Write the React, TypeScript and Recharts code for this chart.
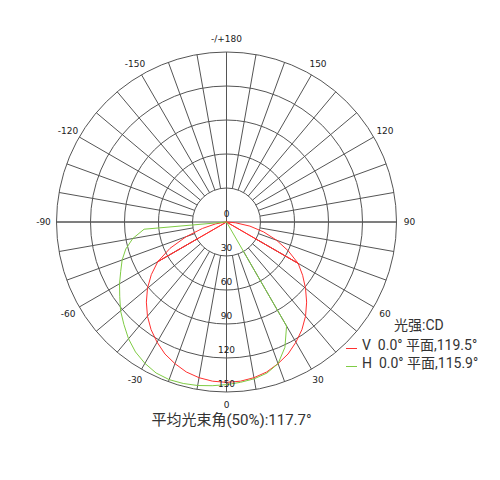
import { RadarChart, Radar, PolarGrid, PolarAngleAxis, PolarRadiusAxis, Legend } from "recharts";

// measured angles, 0 = straight down, positive to the right
const STEP_ANGLES = [
  -90, -85, -80, -75, -70, -65, -60, -55, -50, -45, -40, -35, -30, -25, -20, -15, -10, -5,
  0, 5, 10, 15, 20, 25, 30, 35, 40, 45, 50, 55, 60, 65, 70, 75, 80, 85, 90
];

// V 0.0° plane (cd)
const V_PLANE = [
  0, 2, 10, 22, 38, 55, 70, 81, 91, 100, 108.5, 116, 122.5, 128.5, 133, 137, 139.5, 141,
  141.5, 141, 139.5, 137, 133, 128.5, 122.5, 116, 108.5, 100, 91, 82, 73, 60, 47, 34, 21, 8, 0
];

// the two straight strokes back to the origin in the V plane
const V_PLANE_RETURN = [
  0, 0, 0, 0, 0, 0, 70, 0, 0, 0, 0, 0, 0, 0, 0, 0, 0, 0,
  0, 0, 0, 0, 0, 0, 0, 0, 0, 0, 0, 0, 73, 0, 0, 0, 0, 0, 0
];

// H 0.0° plane (cd)
const H_PLANE = [
  0, 73, 84, 92, 98, 103, 109, 115, 122, 128, 134.5, 140, 144, 147, 148, 147.5, 146.5, 145,
  143.5, 142, 140.5, 138, 133, 122, 106, 0, 0, 0, 0, 0, 0, 0, 0, 0, 0, 0, 0
];

const LABEL_ANGLES = [0, 30, 60, 90, 120, 150, 180, -150, -120, -90, -60, -30];
const ANGLE_LABELS = ["0", "30", "60", "90", "120", "150", "-/+180", "-150", "-120", "-90", "-60", "-30"];
const CROSS_ANGLES = [0, 90, 180, -90];

const SERIES_NAMES = ["V  0.0° 平面,119.5°", "H  0.0° 平面,115.9°"];
const UNIT_LABEL = "光强:CD";
const TITLE = "平均光束角(50%):117.7°";

const RED = "#ff3030";
const GREEN = "#7fcc45";
const SERIES_COLORS = [RED, GREEN];
const GRID = "#555";

const W = 484;
const H = 464;
const CX = 218.5;
const CY = 214;
const R = 170;
// the dial runs from 0 at the bottom; Recharts counts from 3 o'clock
const START = 270;

const LATIN_CJK = "Roboto, 'Noto Sans CJK SC', sans-serif";

// categories go clockwise from the bottom, so walk the dial backwards
const signedAngle = (deg: number) => {
  const s = ((deg % 360) + 360) % 360;
  return s > 180 ? s - 360 : s;
};

const gridData = Array.from({ length: 36 }, (_, i) => ({ angle: signedAngle(-10 * i), ring: 30 }));

const curveData = Array.from({ length: 72 }, (_, i) => {
  const a = signedAngle(-5 * i);
  const k = STEP_ANGLES.indexOf(a);
  return {
    angle: a,
    v: k >= 0 ? V_PLANE[k] : 0,
    vBack: k >= 0 ? V_PLANE_RETURN[k] : 0,
    h: k >= 0 ? H_PLANE[k] : 0
  };
});

function AngleTick(props: any) {
  const { x, y, payload } = props;
  const i = LABEL_ANGLES.indexOf(payload.value);
  if (i < 0) return <g />;
  return (
    <text x={x} y={y} textAnchor="middle" dominantBaseline="central" fontSize={9} fontFamily="'DejaVu Sans'" fill="#222">
      {ANGLE_LABELS[i]}
    </text>
  );
}

function RadiusTick(props: any) {
  const { x, y, payload } = props;
  return (
    <text x={x} y={y - 8} textAnchor="middle" dominantBaseline="central" fontSize={9} fontFamily="'DejaVu Sans'" fill="#222">
      {payload.value}
    </text>
  );
}

function LegendBox() {
  return (
    <div style={{ fontFamily: LATIN_CJK, fontSize: 14, lineHeight: "18px", color: "#333" }}>
      <div style={{ marginLeft: 48, marginBottom: 2 }}>{UNIT_LABEL}</div>
      {SERIES_NAMES.map((name, i) => (
        <div key={name} style={{ display: "flex", alignItems: "center", whiteSpace: "pre" }}>
          <span
            style={{
              display: "inline-block",
              width: 11,
              height: 1,
              background: SERIES_COLORS[i],
              marginRight: 5,
              position: "relative",
              top: 3
            }}
          />
          <span>{name}</span>
        </div>
      ))}
    </div>
  );
}

export default function App() {
  return (
    <div style={{ position: "relative", width: W, height: H }}>
      <div style={{ position: "absolute", left: 0, top: 0 }}>
        <RadarChart
          width={W}
          height={H}
          data={gridData}
          cx={CX}
          cy={CY}
          innerRadius={34}
          outerRadius={R}
          startAngle={START}
          endAngle={START - 360}
          margin={{ top: 0, right: 0, bottom: 0, left: 0 }}
        >
          <PolarGrid gridType="circle" stroke={GRID} strokeWidth={1} />
          <PolarAngleAxis dataKey="angle" axisLine={false} tickLine={false} tickSize={13} tick={AngleTick} />
          <PolarRadiusAxis domain={[30, 150]} tickCount={5} axisLine={false} tick={false} />
          <Radar dataKey="ring" stroke="none" fill="none" dot={false} legendType="none" isAnimationActive={false} />
        </RadarChart>
      </div>
      <div style={{ position: "absolute", left: 0, top: 0 }}>
        <RadarChart
          width={W}
          height={H}
          data={curveData}
          cx={CX}
          cy={CY}
          innerRadius={0}
          outerRadius={R}
          startAngle={START}
          endAngle={START - 360}
          margin={{ top: 0, right: 0, bottom: 0, left: 0 }}
        >
          <PolarGrid
            gridType="circle"
            polarRadius={[]}
            polarAngles={CROSS_ANGLES.map((a) => (START + a) % 360)}
            stroke={GRID}
            strokeWidth={1}
          />
          <PolarAngleAxis dataKey="angle" axisLine={false} tickLine={false} tick={false} />
          <PolarRadiusAxis angle={START} domain={[0, 150]} tickCount={6} axisLine={false} tickLine={false} tick={RadiusTick} />
          <Radar name={SERIES_NAMES[0]} dataKey="v" stroke={RED} strokeWidth={1} fill="none" dot={false} isAnimationActive={false} />
          <Radar dataKey="vBack" stroke={RED} strokeWidth={1} fill="none" dot={false} legendType="none" isAnimationActive={false} />
          <Radar name={SERIES_NAMES[1]} dataKey="h" stroke={GREEN} strokeWidth={1} fill="none" dot={false} isAnimationActive={false} />
          <Legend content={() => <LegendBox />} wrapperStyle={{ position: "absolute", left: 338, top: 308, width: 150 }} />
        </RadarChart>
      </div>
      <div
        style={{
          position: "absolute",
          left: 223.5,
          top: 400,
          transform: "translateX(-50%)",
          whiteSpace: "nowrap",
          fontFamily: LATIN_CJK,
          fontSize: 15,
          color: "#333"
        }}
      >
        {TITLE}
      </div>
    </div>
  );
}
